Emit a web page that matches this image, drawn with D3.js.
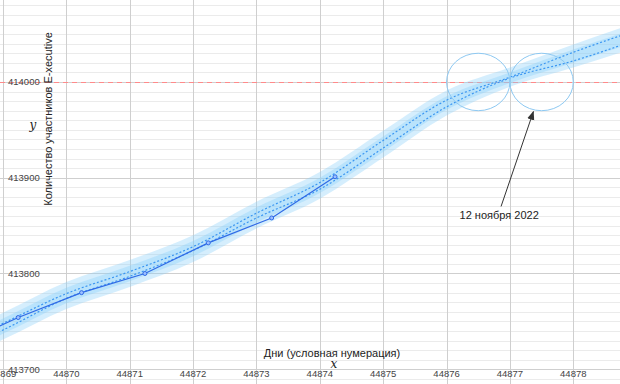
<!DOCTYPE html>
<html>
<head>
<meta charset="utf-8">
<script src="https://cdn.jsdelivr.net/npm/d3@7"></script>
<style>
  html, body { margin: 0; padding: 0; background: #fff; }
  svg { display: block; font-family: "Liberation Sans", Arial, Helvetica, sans-serif; }
</style>
</head>
<body>
<div id="chart"></div>
<script>
// observed members (solid line with markers)
var obsDays   = [44868.24, 44869.24, 44870.24, 44871.24, 44872.24, 44873.24, 44874.24];
var obsValues = [413724, 413754, 413780, 413800, 413832, 413858, 413901];

// fitted curves (dotted), one value per day
var fitDays  = [44868, 44869, 44870, 44871, 44872, 44873, 44874, 44875, 44876, 44877, 44878, 44879];
var fitUpper = [413718, 413748, 413779, 413802, 413828, 413863, 413895, 413939, 413981, 414005, 414031, 414054];
var fitLower = [413712, 413741, 413774, 413797, 413824, 413858, 413888, 413931, 413974, 414004, 414022, 414044];

// uncertainty band, two layers
var bandOuterLo = [413701, 413731, 413763, 413786, 413812, 413847, 413878, 413921, 413965, 413995, 414015, 414036];
var bandOuterHi = [413729, 413759, 413791, 413814, 413840, 413875, 413906, 413949, 413991, 414015, 414039, 414062];
var bandInnerLo = [413707, 413737, 413769, 413792, 413818, 413853, 413884, 413927, 413971, 413999, 414020, 414042];
var bandInnerHi = [413723, 413753, 413785, 413808, 413834, 413869, 413900, 413943, 413985, 414010, 414034, 414056];

var xTicks = [44869, 44870, 44871, 44872, 44873, 44874, 44875, 44876, 44877, 44878];
var yTicks = [413700, 413800, 413900, 414000];
var targetValue = 414000;

// highlighted region around the crossing
var circleDays = [44876.5, 44877.5];
var circleHalfDay = 0.5, circleHalfValue = 30;

var annotation = { text: "12 ноября 2022", day: 44876.83, value: 413861,
                   fromDay: 44876.86, fromValue: 413870, toDay: 44877.37, toValue: 413969 };

var W = 620, H = 384;

var x = d3.scaleLinear().domain([44868.953, 44878.737]).range([0, W]);
var y = d3.scaleLinear().domain([413684.6, 414085.6]).range([H, 0]);

var svg = d3.select("#chart").append("svg").attr("width", W).attr("height", H);

svg.append("defs").append("clipPath").attr("id", "clip")
    .append("rect").attr("width", W).attr("height", H);

svg.append("defs").append("marker").attr("id", "arrowhead")
    .attr("viewBox", "0 0 10 10").attr("refX", 9).attr("refY", 5)
    .attr("markerWidth", 9).attr("markerHeight", 9).attr("orient", "auto")
    .append("path").attr("d", "M0,1 L10,5 L0,9 Z").attr("fill", "#333");

// grid: minor horizontal every 10, major every 100
var grid = svg.append("g");
grid.selectAll(".minor").data(d3.range(413690, 414090, 10))
    .enter().append("line")
    .attr("x1", 0).attr("x2", W)
    .attr("y1", function(d) { return Math.round(y(d)) + 0.5; })
    .attr("y2", function(d) { return Math.round(y(d)) + 0.5; })
    .attr("stroke", "#ebebeb");
grid.selectAll(".major").data(yTicks)
    .enter().append("line")
    .attr("x1", 0).attr("x2", W)
    .attr("y1", function(d) { return Math.round(y(d)) + 0.5; })
    .attr("y2", function(d) { return Math.round(y(d)) + 0.5; })
    .attr("stroke", "#cfcfcf");
grid.selectAll(".vert").data(xTicks)
    .enter().append("line")
    .attr("y1", 0).attr("y2", H)
    .attr("x1", function(d) { return Math.round(x(d)) + 0.5; })
    .attr("x2", function(d) { return Math.round(x(d)) + 0.5; })
    .attr("stroke", "#cfcfcf");

// target line
svg.append("line")
    .attr("x1", 0).attr("x2", W)
    .attr("y1", Math.round(y(targetValue)) + 0.5).attr("y2", Math.round(y(targetValue)) + 0.5)
    .attr("stroke", "#ff8a8a").attr("stroke-dasharray", "5,4");

var plot = svg.append("g").attr("clip-path", "url(#clip)");

function bandArea(lo, hi) {
    return d3.area()
        .x(function(d, i) { return x(fitDays[i]); })
        .y0(function(d, i) { return y(lo[i]); })
        .y1(function(d, i) { return y(hi[i]); })
        .curve(d3.curveMonotoneX)(fitDays);
}
plot.append("path").attr("d", bandArea(bandOuterLo, bandOuterHi))
    .attr("fill", "#87cefa").attr("opacity", 0.35);
plot.append("path").attr("d", bandArea(bandInnerLo, bandInnerHi))
    .attr("fill", "#87cefa").attr("opacity", 0.35);

var fitLine = d3.line()
    .x(function(d) { return x(d[0]); })
    .y(function(d) { return y(d[1]); })
    .curve(d3.curveMonotoneX);
[fitUpper, fitLower].forEach(function(vals) {
    plot.append("path")
        .attr("d", fitLine(d3.zip(fitDays, vals)))
        .attr("fill", "none").attr("stroke", "#3a96f2")
        .attr("stroke-width", 1.2).attr("stroke-dasharray", "2,2");
});

var obs = d3.zip(obsDays, obsValues);
plot.append("path")
    .attr("d", d3.line().x(function(d) { return x(d[0]); }).y(function(d) { return y(d[1]); })(obs))
    .attr("fill", "none").attr("stroke", "#2f6ae6").attr("stroke-width", 1.2);
plot.selectAll(".pt").data(obs).enter().append("circle")
    .attr("cx", function(d) { return x(d[0]); })
    .attr("cy", function(d) { return y(d[1]); })
    .attr("r", 2).attr("fill", "#9cc0ff").attr("stroke", "#2f6ae6").attr("stroke-width", 1);

// circled area
plot.selectAll(".ring").data(circleDays).enter().append("ellipse")
    .attr("cx", function(d) { return x(d); })
    .attr("cy", y(targetValue))
    .attr("rx", x(circleHalfDay + 44870) - x(44870))
    .attr("ry", y(targetValue - circleHalfValue) - y(targetValue))
    .attr("fill", "none").attr("stroke", "#8ec9f2").attr("stroke-width", 1);

// annotation arrow
svg.append("line")
    .attr("x1", x(annotation.fromDay)).attr("y1", y(annotation.fromValue))
    .attr("x2", x(annotation.toDay)).attr("y2", y(annotation.toValue))
    .attr("stroke", "#333").attr("stroke-width", 1)
    .attr("marker-end", "url(#arrowhead)");
svg.append("text")
    .attr("x", x(annotation.day)).attr("y", y(annotation.value))
    .attr("dy", "0.35em").attr("text-anchor", "middle")
    .attr("font-size", 11).attr("fill", "#222")
    .text(annotation.text);

// tick labels
svg.selectAll(".xlab").data(xTicks).enter().append("text")
    .attr("x", function(d) { return x(d); })
    .attr("y", 374).attr("dy", "0.35em")
    .attr("text-anchor", "middle").attr("font-size", 9.5).attr("fill", "#444")
    .text(function(d) { return d; });
svg.selectAll(".ylab").data(yTicks).enter().append("text")
    .attr("x", 8).attr("y", function(d) { return y(d); })
    .attr("dy", "0.35em").attr("font-size", 9.5).attr("fill", "#444")
    .text(function(d) { return d; });

// axis titles
svg.append("text")
    .attr("x", 332).attr("y", 353).attr("dy", "0.35em")
    .attr("text-anchor", "middle").attr("font-size", 11).attr("fill", "#222")
    .text("Дни (условная нумерация)");
svg.append("text")
    .attr("x", 334).attr("y", 364).attr("dy", "0.35em")
    .attr("text-anchor", "middle").attr("font-size", 12)
    .attr("font-family", "'DejaVu Serif', 'Liberation Serif', serif").attr("font-style", "italic")
    .attr("fill", "#222").text("x");
svg.append("text")
    .attr("transform", "translate(48,119) rotate(-90)")
    .attr("dy", "0.35em").attr("text-anchor", "middle")
    .attr("font-size", 11).attr("fill", "#222")
    .text("Количество участников E-xecutive");
svg.append("text")
    .attr("x", 33).attr("y", 125).attr("dy", "0.35em")
    .attr("text-anchor", "middle").attr("font-size", 12)
    .attr("font-family", "'DejaVu Serif', 'Liberation Serif', serif").attr("font-style", "italic")
    .attr("fill", "#222").text("y");
</script>
</body>
</html>
